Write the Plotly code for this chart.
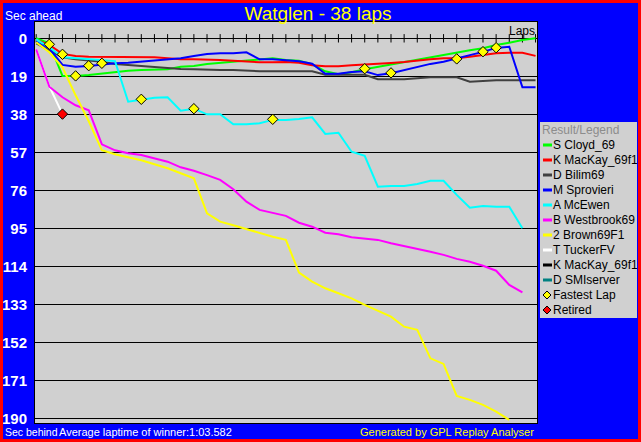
import plotly.graph_objects as go

# race: Watglen, 38 laps -- seconds relative to winner's average pace
LAPS = list(range(39))

CLOYD = [0.0, 2.5, 18.8, 18.8, 18.3, 17.5, 17.0, 16.2, 15.8, 15.5, 15.5, 14.2, 13.8,
         12.8, 12.2, 11.7, 11.2, 10.5, 10.0, 10.8, 11.2, 13.0, 16.5, 18.0, 17.0, 15.5,
         14.3, 13.0, 12.0, 10.8, 9.5, 8.5, 7.3, 6.0, 5.0, 3.4, 2.2, 0.9, 0.0]
MACKAY = [0.8, 3.3, 7.8, 8.8, 9.2, 9.2, 9.2, 9.2, 9.5, 9.5, 10.0, 10.5, 10.5,
          10.5, 10.8, 11.2, 11.7, 12.0, 12.0, 11.8, 12.2, 13.5, 14.0, 14.0, 13.5, 13.2,
          12.7, 12.3, 11.8, 11.0, 10.5, 10.0, 10.0, 9.2, 8.3, 7.5, 7.2, 7.2, 8.8]
BILIM = [2.5, 6.2, 9.5, 10.5, 11.2, 11.7, 12.8, 13.3, 13.8, 14.5, 15.0, 15.3, 15.5,
         15.8, 15.8, 15.8, 16.2, 16.5, 16.5, 16.5, 16.5, 16.5, 18.2, 18.2, 18.2, 18.2,
         20.5, 20.5, 20.5, 20.0, 19.5, 19.5, 19.5, 21.7, 21.2, 21.0, 21.0, 21.0, 21.0]
SPROVIERI = [1.7, 5.0, 13.3, 14.2, 13.8, 13.0, 12.5, 12.2, 11.7, 11.2, 10.5, 10.0, 8.8,
             7.8, 7.5, 7.5, 7.0, 10.5, 10.5, 11.0, 11.5, 12.7, 17.7, 17.7, 16.8, 16.5,
             18.4, 17.5, 16.0, 14.2, 12.8, 11.7, 10.2, 8.4, 6.8, 4.8, 4.2, 24.5, 24.5]
MCEWEN = [0.5, 4.5, 9.5, 10.0, 10.5, 11.0, 11.4, 31.7, 30.8, 29.7, 29.5, 36.2, 35.2,
          38.0, 38.0, 43.0, 43.0, 42.5, 40.8, 40.8, 40.3, 39.5, 47.8, 47.2, 56.7, 58.8,
          74.2, 73.8, 73.8, 72.8, 71.2, 71.2, 78.3, 84.7, 83.8, 84.2, 84.2, 95.0]
WESTBROOK = [5.5, 24.2, 29.5, 33.5, 36.0, 53.0, 56.0, 57.5, 58.4, 60.0, 61.7, 64.5, 66.2,
             68.4, 70.8, 75.5, 81.7, 85.8, 87.2, 88.8, 92.2, 94.2, 97.2, 98.0, 99.5, 100.0,
             100.8, 102.5, 103.8, 105.3, 106.7, 108.3, 110.3, 111.7, 113.7, 116.2, 123.3, 127.0]
BROWN = [2.0, 7.0, 14.5, 28.5, 41.5, 56.0, 58.0, 59.5, 61.0, 63.0, 65.0, 67.5, 70.0,
         87.5, 91.7, 93.5, 95.5, 97.5, 99.2, 100.8, 117.2, 121.7, 125.0, 127.5, 130.0, 133.3,
         136.2, 139.2, 144.2, 145.8, 160.0, 162.8, 178.8, 180.8, 183.3, 186.7, 190.8]
TUCKER = [5.5, 24.0, 37.9]

DRIVERS = ['S Cloyd_69', 'K MacKay_69f1', 'D Bilim69', 'M Sprovieri', 'A McEwen',
           'B Westbrook69', '2 Brown69F1', 'T TuckerFV', 'K MacKay_69f1', 'D SMIserver']
SERIES = [CLOYD, MACKAY, BILIM, SPROVIERI, MCEWEN, WESTBROOK, BROWN, TUCKER, [], []]
COLORS = ['#00FF00', '#FF0000', '#404040', '#0000FF', '#00FFFF',
          '#FF00FF', '#FFFF00', '#FFFFFF', '#000000', '#008080']

FASTEST_LAPS = [1, 2, 3, 4, 5, 8, 12, 18, 25, 27, 32, 34, 35]
FASTEST_SEC = [3.0, 8.0, 18.8, 13.7, 12.5, 30.5, 35.2, 40.5, 15.2, 17.3, 10.3, 6.7, 4.7]
RETIRED_LAPS = [2]
RETIRED_SEC = [37.9]

Y_TICKS = list(range(0, 191, 19))

# page geometry in pixels
W, H = 641, 442
L, R, T, B = 35, 537, 22, 423
BG = '#0000FF'
PLOT_BG = '#D0D0D0'
FONT = 'Liberation Sans, Arial, sans-serif'


def px(x):
    return (x - L) / (R - L)


def py(y):
    return (B - y) / (B - T)


fig = go.Figure()

# lap ticks on the zero line
fig.add_trace(go.Scatter(
    x=LAPS, y=[0] * len(LAPS), mode='markers', hoverinfo='skip',
    marker=dict(symbol='line-ns', size=6, line=dict(color='black', width=1)),
))

# draw order: white (retired) under the rest
order = [7, 0, 1, 2, 3, 4, 5, 6, 8, 9]
for i in order:
    vals = SERIES[i]
    if not vals:
        continue
    fig.add_trace(go.Scatter(
        x=LAPS[:len(vals)], y=vals, mode='lines', name=DRIVERS[i],
        line=dict(color=COLORS[i], width=2),
    ))

fig.add_trace(go.Scatter(
    x=FASTEST_LAPS, y=FASTEST_SEC, mode='markers', name='Fastest Lap',
    marker=dict(symbol='diamond', size=8, color='#FFFF00', line=dict(color='black', width=1)),
))
fig.add_trace(go.Scatter(
    x=RETIRED_LAPS, y=RETIRED_SEC, mode='markers', name='Retired',
    marker=dict(symbol='diamond', size=8, color='#FF0000', line=dict(color='black', width=1)),
))

shapes = []
annotations = []

# hand-drawn legend box (plotly's own legend is too wide for the margin)
shapes.append(dict(type='rect', xref='paper', yref='paper', layer='below',
                   x0=px(540), x1=px(637), y0=py(318), y1=py(122),
                   fillcolor=PLOT_BG, line=dict(width=0)))
annotations.append(dict(text='Result/Legend', xref='paper', yref='paper',
                        x=px(540), y=py(130), xanchor='left', yanchor='middle',
                        showarrow=False, font=dict(family=FONT, size=12, color='#8C8C8C')))
row_y = 145
for name, color in zip(DRIVERS, COLORS):
    shapes.append(dict(type='line', xref='paper', yref='paper',
                       x0=px(543), x1=px(552), y0=py(row_y), y1=py(row_y),
                       line=dict(color=color, width=3)))
    annotations.append(dict(text=name, xref='paper', yref='paper',
                            x=px(551), y=py(row_y), xanchor='left', yanchor='middle',
                            showarrow=False, font=dict(family=FONT, size=12, color='black')))
    row_y += 15
for name, color in [('Fastest Lap', '#FFFF00'), ('Retired', '#FF0000')]:
    cx, cy, r = 547, row_y, 4
    shapes.append(dict(type='path', xref='paper', yref='paper',
                       path=f'M {px(cx - r)} {py(cy)} L {px(cx)} {py(cy - r)} '
                            f'L {px(cx + r)} {py(cy)} L {px(cx)} {py(cy + r)} Z',
                       fillcolor=color, line=dict(color='black', width=1)))
    annotations.append(dict(text=name, xref='paper', yref='paper',
                            x=px(551), y=py(row_y), xanchor='left', yanchor='middle',
                            showarrow=False, font=dict(family=FONT, size=12, color='black')))
    row_y += 15

# red frame around the whole picture
shapes.append(dict(type='rect', xref='paper', yref='paper', layer='above',
                   x0=px(0), x1=px(W), y0=py(H), y1=py(0),
                   line=dict(color='#FF0000', width=6)))

small = dict(family=FONT, size=11, color='white')
annotations += [
    dict(text='Sec ahead', x=px(3), y=py(16), xanchor='left', font=dict(small, size=12)),
    dict(text='Laps', x=px(537), y=py(31), xanchor='right', font=dict(small, size=12, color='black')),
    dict(text='Sec behind', x=px(3), y=py(432), xanchor='left', font=dict(small, size=10.5)),
    dict(text='Average laptime of winner:1:03.582', x=px(57), y=py(432), xanchor='left',
         font=small),
    dict(text='Generated by GPL Replay Analyser', x=px(536), y=py(432), xanchor='right',
         font=dict(small, color='#FFFF00')),
]
for a in annotations[-5:]:
    a.update(xref='paper', yref='paper', yanchor='middle', showarrow=False)

fig.update_layout(
    width=W, height=H,
    margin=dict(l=L, r=W - R, t=T, b=H - B),
    paper_bgcolor=BG,
    plot_bgcolor=PLOT_BG,
    showlegend=False,
    title=dict(text='Watglen - 38 laps', x=318 / W, xanchor='center',
               y=1 - 13 / H, yanchor='middle',
               font=dict(family=FONT, size=19, color='#FFFF00')),
    shapes=shapes,
    annotations=annotations,
)

fig.update_xaxes(range=[-0.09, 38.11], showgrid=False, zeroline=False,
                 showticklabels=False, ticks='',
                 showline=True, mirror=True, linecolor='black', linewidth=1)
fig.update_yaxes(range=[192.35, -8.15], tickvals=Y_TICKS, showgrid=True,
                 gridcolor='black', gridwidth=1, zeroline=False, automargin=False,
                 tickfont=dict(family=FONT, size=15, color='white', weight='bold'),
                 ticklabelstandoff=4,
                 showline=True, mirror=True, linecolor='black', linewidth=1)

# the page's default 8px body margin would push the figure off the window
fig.write_html('out.html', config={'displayModeBar': False},
               post_script="document.body.style.margin='0px';")
